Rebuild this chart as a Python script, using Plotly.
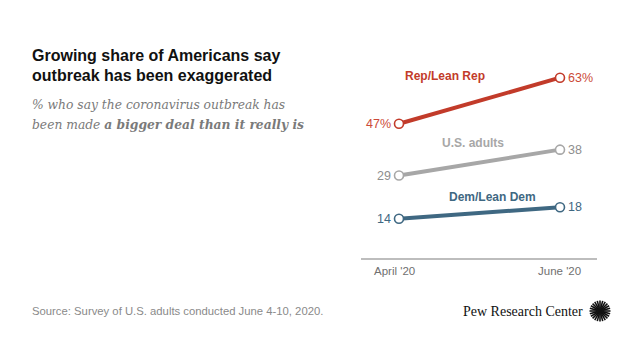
import plotly.graph_objects as go
import math

# ---- data ----
periods = ["April '20", "June '20"]
series_names = ["Rep/Lean Rep", "U.S. adults", "Dem/Lean Dem"]
rep_values = [47, 63]
all_values = [29, 38]
dem_values = [14, 18]

W, H = 640, 360
OFF = 8  # page body margin
L, R, T, B = 361 - OFF, 43 + OFF, 60 - OFF, 101 + OFF
PW, PH = W - L - R, H - T - B

def px(x):
    return (x - OFF - L) / PW

def py(y):
    return (H - B - (y - OFF)) / PH

colors = {
    "Rep/Lean Rep": ("#C23B2A", "#CC4A38"),
    "U.S. adults": ("#A7A7A7", "#8E8E8E"),
    "Dem/Lean Dem": ("#3F6882", "#3F6882"),
}
vals = {"Rep/Lean Rep": rep_values, "U.S. adults": all_values, "Dem/Lean Dem": dem_values}
label_pos = {"Rep/Lean Rep": (445, 76), "U.S. adults": (473, 143), "Dem/Lean Dem": (492, 197)}

xs = [0, 1]
fig = go.Figure()
for name in series_names:
    lc, tc = colors[name]
    fig.add_trace(go.Scatter(
        x=xs, y=vals[name], mode="lines+markers",
        line=dict(color=lc, width=4),
        marker=dict(size=9, color="white", line=dict(color=lc, width=1.6)),
        hoverinfo="skip", showlegend=False,
    ))

annotations = []
for name in series_names:
    lc, tc = colors[name]
    v = vals[name]
    suffix = "%" if name == "Rep/Lean Rep" else ""
    annotations.append(dict(x=0, y=v[0], xref="x", yref="y", text=f"{v[0]}{suffix}",
                            xanchor="right", yanchor="middle", xshift=-6, showarrow=False,
                            font=dict(family="Liberation Sans, Arial", size=12.5, color=tc)))
    annotations.append(dict(x=1, y=v[1], xref="x", yref="y", text=f"{v[1]}{suffix}",
                            xanchor="left", yanchor="middle", xshift=6, showarrow=False,
                            font=dict(family="Liberation Sans, Arial", size=12.5, color=tc)))
    lx, ly = label_pos[name]
    annotations.append(dict(x=px(lx), y=py(ly), xref="paper", yref="paper",
                            text=f"<b>{name}</b>", xanchor="center", yanchor="middle",
                            showarrow=False,
                            font=dict(family="Liberation Sans, Arial", size=12, color=lc)))

# axis labels
for i, p in enumerate(periods):
    annotations.append(dict(x=xs[i], y=py(271), xref="x", yref="paper", text=p,
                            xanchor="center", yanchor="middle", showarrow=False,
                            xshift=-5 if i == 0 else -1,
                            font=dict(family="Liberation Sans, Arial", size=11.5, color="#707070")))

# title / subtitle
title_lines = ["Growing share of Americans say", "outbreak has been exaggerated"]
for txt, yc in zip(title_lines, [55, 75]):
    annotations.append(dict(x=px(30), y=py(yc), xref="paper", yref="paper",
                            text=f"<b>{txt}</b>", xanchor="left", yanchor="middle",
                            showarrow=False,
                            font=dict(family="Liberation Sans, Arial", size=16, color="#111111")))
sub_lines = ["<i>% who say the coronavirus outbreak has</i>",
             "<i>been made <b>a bigger deal than it really is</b></i>"]
for txt, yc in zip(sub_lines, [105, 124]):
    annotations.append(dict(x=px(30), y=py(yc), xref="paper", yref="paper",
                            text=txt, xanchor="left", yanchor="middle", showarrow=False,
                            font=dict(family="DejaVu Serif, Georgia, serif", size=12.3, color="#7A7A7A")))
# source
annotations.append(dict(x=px(30), y=py(311), xref="paper", yref="paper",
                        text="Source: Survey of U.S. adults conducted June 4-10, 2020.",
                        xanchor="left", yanchor="middle", showarrow=False,
                        font=dict(family="Liberation Sans, Arial", size=11.3, color="#8A8A8A")))
annotations.append(dict(x=px(585), y=py(311), xref="paper", yref="paper",
                        text="Pew Research Center",
                        xanchor="right", yanchor="middle", showarrow=False,
                        font=dict(family="Liberation Serif, Times New Roman, serif", size=14, color="#111111")))

# logo sunburst
shapes = []
cx, cy = 600, 311
n = 24
for k in range(n):
    a = 2 * math.pi * k / n
    r0, r1 = 2.5, 10.5
    shapes.append(dict(type="line", xref="paper", yref="paper",
                       x0=px(cx + r0 * math.cos(a)), y0=py(cy + r0 * math.sin(a)),
                       x1=px(cx + r1 * math.cos(a)), y1=py(cy + r1 * math.sin(a)),
                       line=dict(color="#111111", width=1.6)))
shapes.append(dict(type="circle", xref="paper", yref="paper",
                   x0=px(cx - 3), x1=px(cx + 3), y0=py(cy + 3), y1=py(cy - 3),
                   fillcolor="#111111", line=dict(width=0)))

fig.update_layout(
    width=W, height=H,
    margin=dict(l=L, r=R, t=T, b=B),
    paper_bgcolor="white", plot_bgcolor="white",
    xaxis=dict(range=[(361 - 399) / 161, (597 - 399) / 161], showgrid=False, zeroline=False,
               showticklabels=False, showline=False, fixedrange=True),
    yaxis=dict(range=[0, 199 / 2.878], showgrid=False, zeroline=False,
               showticklabels=False, showline=False, fixedrange=True),
    annotations=annotations,
    shapes=shapes + [dict(type="line", xref="paper", yref="paper", x0=0, x1=1, y0=0, y1=0,
                          line=dict(color="#BDBDBD", width=2))],
)

fig.write_html("out.html")
